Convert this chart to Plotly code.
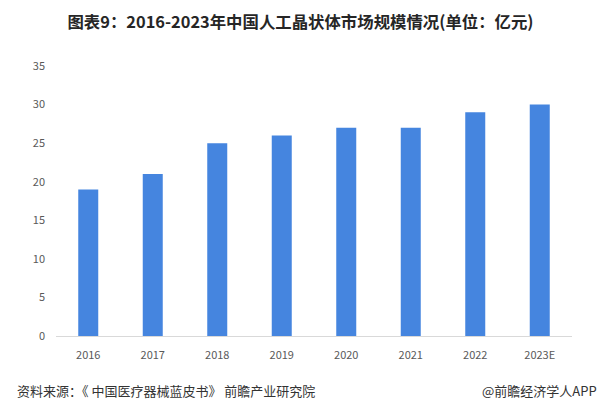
import plotly.graph_objects as go

categories = ["2016", "2017", "2018", "2019", "2020", "2021", "2022", "2023E"]
values = [19, 21, 25, 26, 27, 27, 29, 30]
y_ticks = [0, 5, 10, 15, 20, 25, 30, 35]

title_text = "图表9：2016-2023年中国人工晶状体市场规模情况(单位：亿元)"
source_text = "资料来源：《 中国医疗器械蓝皮书》 前瞻产业研究院"
brand_text = "@前瞻经济学人APP"

font_family = "Microsoft YaHei, Noto Sans CJK SC, sans-serif"

fig = go.Figure()
fig.add_trace(go.Bar(
    x=categories, y=values,
    marker=dict(color="#4585df", line=dict(width=0)),
    width=0.31,
))

fig.update_layout(
    width=601, height=412,
    margin=dict(l=56, r=29, t=66, b=76),
    paper_bgcolor="white", plot_bgcolor="white",
    showlegend=False,
    font=dict(family=font_family, color="#595959", size=11),
    title=dict(text="<b>" + title_text + "</b>", x=0.5, xanchor="center",
               y=0.945, yanchor="middle",
               font=dict(size=16.4, color="#262626", family=font_family)),
    bargap=0.69,
)
fig.update_xaxes(
    type="category", showgrid=False, showline=True, linecolor="#d9d9d9",
    linewidth=1, ticks="", tickfont=dict(size=11, color="#595959"),
    ticklabelstandoff=9,
)
fig.update_yaxes(
    range=[0, 35], tickvals=y_ticks, showgrid=False, zeroline=False,
    showline=False, ticks="", tickfont=dict(size=11, color="#595959"),
    ticklabelstandoff=10,
)
fig.add_annotation(text=source_text, xref="paper", yref="paper",
                   x=-0.08, xanchor="left", y=-0.2, yanchor="middle",
                   showarrow=False, font=dict(size=13, color="#333333", family=font_family))
fig.add_annotation(text=brand_text, xref="paper", yref="paper",
                   x=1.052, xanchor="right", y=-0.2, yanchor="middle",
                   showarrow=False, font=dict(size=13, color="#333333", family=font_family))

fig.write_html("out.html", config={"displayModeBar": False},
               post_script="document.body.style.margin='0';")
